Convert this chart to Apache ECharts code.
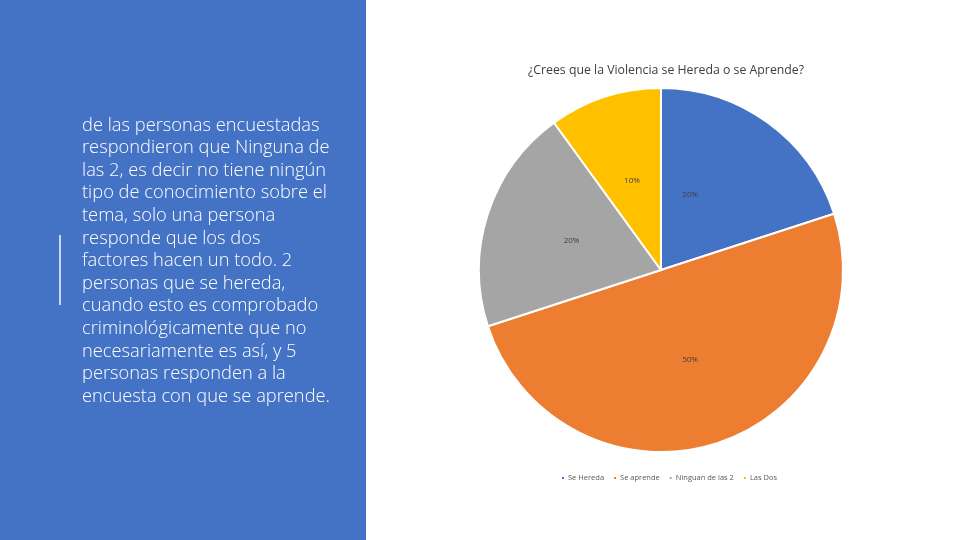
<!DOCTYPE html>
<html>
<head>
<meta charset="utf-8">
<script src="https://cdn.jsdelivr.net/npm/echarts@6/dist/echarts.min.js"></script>
<style>
  html, body { margin: 0; padding: 0; background: #fff; }
  #main { width: 960px; height: 540px; }
</style>
</head>
<body>
<div id="main"></div>
<script>
// datos de la encuesta
var categorias = ['Se Hereda', 'Se aprende', 'Ninguan de las 2', 'Las Dos'];
var porcentajes = [20, 50, 20, 10];
var colores = ['#4472C4', '#ED7D31', '#A5A5A5', '#FFC000'];

var titulo = '¿Crees que la Violencia se Hereda o se Aprende?';

// texto del panel azul, linea por linea como en la diapositiva
var lineasTexto = [
  'de las personas encuestadas',
  'respondieron que Ninguna de',
  'las 2, es decir no tiene ningún',
  'tipo de conocimiento sobre el',
  'tema, solo una persona',
  'responde que los dos',
  'factores hacen un todo. 2',
  'personas que se hereda,',
  'cuando esto es comprobado',
  'criminológicamente que no',
  'necesariamente es así, y 5',
  'personas responden a la',
  'encuesta con que se aprende.'
];

var myChart = echarts.init(document.getElementById('main'));

var datosPie = categorias.map(function (c, i) {
  return { name: c, value: porcentajes[i], itemStyle: { color: colores[i] } };
});

var option = {
  animation: false,
  graphic: [
    {
      type: 'rect',
      shape: { x: 0, y: 0, width: 366, height: 540 },
      style: { fill: '#4472C4' },
      z: 0
    },
    {
      type: 'rect',
      shape: { x: 59, y: 235, width: 2, height: 70 },
      style: { fill: '#c9d6ee' },
      z: 1
    },
    {
      type: 'text',
      left: 82,
      top: 114,
      z: 2,
      style: {
        text: lineasTexto.join('\n'),
        fill: '#ffffff',
        font: '300 18.3px "Open Sans", "Noto Sans", sans-serif',
        lineHeight: 22.6
      }
    }
  ],
  title: {
    text: titulo,
    left: 661,
    top: 59,
    textAlign: 'center',
    textStyle: {
      fontFamily: '"Open Sans", "Noto Sans", sans-serif',
      fontWeight: 'normal',
      fontSize: 12.3,
      color: '#404040'
    }
  },
  legend: {
    data: categorias,
    left: 555,
    top: 469,
    orient: 'horizontal',
    itemWidth: 4,
    itemHeight: 4,
    itemGap: 8,
    icon: 'rect',
    textStyle: {
      fontFamily: '"Open Sans", "Noto Sans", sans-serif',
      fontSize: 7.5,
      color: '#595959',
      padding: [0, 0, 0, -2]
    }
  },
  series: [
    {
      type: 'pie',
      center: [661, 270],
      radius: [0, 182],
      startAngle: 90,
      clockwise: true,
      data: datosPie,
      itemStyle: { borderColor: '#ffffff', borderWidth: 2 },
      label: {
        show: true,
        position: 'inside',
        formatter: '{d}%',
        fontFamily: '"Open Sans", "Noto Sans", sans-serif',
        fontSize: 8,
        color: '#404040'
      },
      labelLine: { show: false },
      // la etiqueta azul en el original esta mas cerca del borde izquierdo
      labelLayout: function (params) {
        if (params.dataIndex === 0) {
          return { dx: -26, dy: 1 };
        }
        return {};
      },
      emphasis: { disabled: true }
    }
  ]
};

myChart.setOption(option);
</script>
</body>
</html>
